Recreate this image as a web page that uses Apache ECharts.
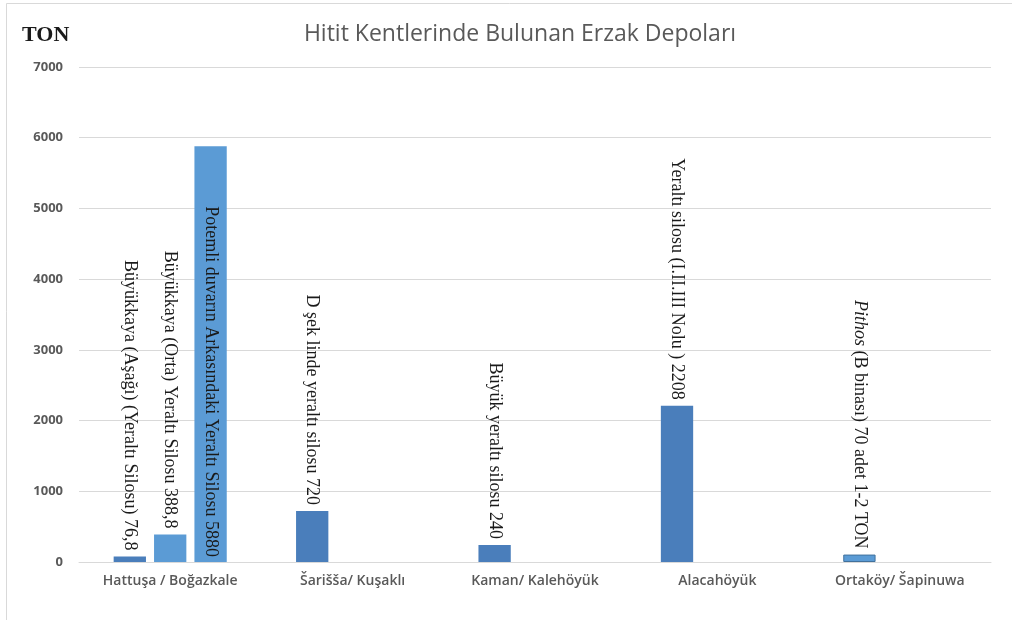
<!DOCTYPE html>
<html>
<head>
<meta charset="utf-8">
<script src="https://cdn.jsdelivr.net/npm/echarts@6/dist/echarts.min.js"></script>
<style>html,body{margin:0;padding:0;background:#fff}#c{width:1012px;height:620px}</style>
</head>
<body>
<div id="c"></div>
<script>
const categories = ['Hattuşa / Boğazkale', 'Šarišša/ Kuşaklı', 'Kaman/ Kalehöyük', 'Alacahöyük', 'Ortaköy/ Šapinuwa'];
const yTicks = [0, 1000, 2000, 3000, 4000, 5000, 6000, 7000];
const series1 = [76.8, 720, 240, 2208, 105];
const series2 = [388.8, null, null, null, null];
const series3 = [5880, null, null, null, null];
const labels1 = ['Büyükkaya (Aşağı) (Yeraltı Silosu) 76,8', 'D şek linde yeraltı silosu 720', 'Büyük yeraltı silosu 240', 'Yeraltı silosu (I.II.III Nolu ) 2208', '{i|Pithos} (B binası) 70 adet 1-2 TON'];
const labels2 = ['Büyükkaya (Orta) Yeraltı Silosu 388,8', '', '', '', ''];
const labels3 = ['Potemli duvarın Arkasındaki Yeraltı Silosu 5880', '', '', '', ''];

const serif = '"Liberation Serif", "DejaVu Serif", serif';
const labelBase = {
  show: true,
  rotate: -90,
  fontFamily: serif,
  fontSize: 18,
  color: '#1a1a1a',
  verticalAlign: 'middle'
};

const chart = echarts.init(document.getElementById('c'));
chart.setOption({
  animation: false,
  backgroundColor: '#fff',
  title: {
    text: 'Hitit Kentlerinde Bulunan Erzak Depoları',
    left: 515, top: 18, textAlign: 'center',
    textStyle: { fontFamily: '"Open Sans", sans-serif', fontSize: 23, fontWeight: 'normal', color: '#595959' }
  },
  graphic: [
    { type: 'line', shape: { x1: 6.5, y1: 3.5, x2: 1012, y2: 3.5 }, style: { stroke: '#d9d9d9', lineWidth: 1 } },
    { type: 'line', shape: { x1: 6.5, y1: 3.5, x2: 6.5, y2: 620 }, style: { stroke: '#d9d9d9', lineWidth: 1 } },
    { type: 'text', left: 22, top: 24, style: { text: 'TON', font: 'bold 22px "Liberation Serif", serif', fill: '#1a1a1a' } }
  ],
  grid: { left: 79, right: 21, top: 67, bottom: 58 },
  xAxis: {
    type: 'category',
    data: categories,
    axisLine: { show: true, lineStyle: { color: '#d9d9d9' } },
    axisTick: { show: false },
    axisLabel: { fontFamily: '"Open Sans", sans-serif', fontSize: 14, fontWeight: 600, color: '#595959', margin: 12 }
  },
  yAxis: {
    type: 'value',
    min: yTicks[0], max: yTicks[yTicks.length - 1], interval: 1000,
    axisLine: { show: false },
    axisTick: { show: false },
    splitLine: { lineStyle: { color: '#d9d9d9' } },
    axisLabel: { fontFamily: '"Open Sans", sans-serif', fontSize: 13, fontWeight: 'bold', color: '#595959', margin: 16, formatter: v => String(v) }
  },
  series: [
    {
      type: 'bar', data: series1.map((v, i) => i === 4 ? { value: v, itemStyle: { color: '#5b9bd5', borderColor: '#41719c', borderWidth: 1 } } : v),
      barGap: '25%', barCategoryGap: '38%',
      itemStyle: { color: '#4a7ebb' },
      label: Object.assign({}, labelBase, {
        position: 'top', align: 'right', distance: 6,
        formatter: p => labels1[p.dataIndex],
        rich: { i: { fontStyle: 'italic', fontFamily: serif, fontSize: 18, color: '#1a1a1a' } }
      })
    },
    {
      type: 'bar', data: series2,
      itemStyle: { color: '#5b9bd5' },
      label: Object.assign({}, labelBase, {
        position: 'top', align: 'right', distance: 6,
        formatter: p => labels2[p.dataIndex]
      })
    },
    {
      type: 'bar', data: series3,
      itemStyle: { color: '#5b9bd5' },
      label: Object.assign({}, labelBase, {
        position: 'insideBottom', align: 'right', distance: 5,
        formatter: p => labels3[p.dataIndex]
      })
    }
  ]
});
</script>
</body>
</html>
